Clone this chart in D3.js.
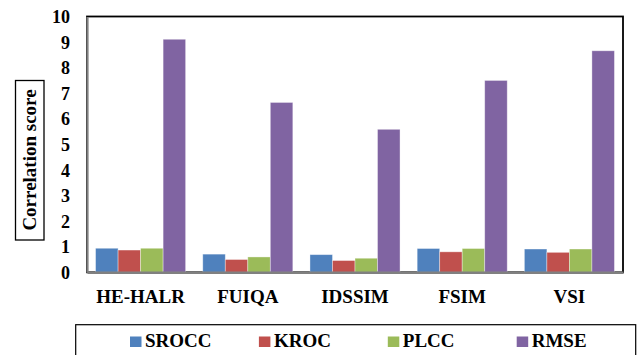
<!DOCTYPE html>
<html>
<head>
<meta charset="utf-8">
<script src="https://cdn.jsdelivr.net/npm/d3@7"></script>
<style>
  html, body { margin: 0; padding: 0; background: #fff; }
  svg { display: block; }
</style>
</head>
<body>
<svg id="chart" width="638" height="355"></svg>
<script>
// Quality metrics per method
const methods = ["HE-HALR", "FUIQA", "IDSSIM", "FSIM", "VSI"];
const metrics = ["SROCC", "KROC", "PLCC", "RMSE"];
const srocc = [0.94, 0.71, 0.69, 0.93, 0.91];
const kroc  = [0.87, 0.50, 0.46, 0.80, 0.78];
const plcc  = [0.94, 0.60, 0.55, 0.93, 0.91];
const rmse  = [9.11, 6.64, 5.59, 7.50, 8.66];
const yTicks = [0, 1, 2, 3, 4, 5, 6, 7, 8, 9, 10];
const colors = ["#4F81BD", "#C0504D", "#9BBB59", "#8064A2"];

const FONT = "'Liberation Serif', 'DejaVu Serif', 'Times New Roman', serif";

const seriesValues = [srocc, kroc, plcc, rmse];
const rows = methods.map((m, i) => ({
  method: m,
  values: metrics.map((k, j) => ({ key: k, value: seriesValues[j][i] }))
}));

const svg = d3.select("#chart");
const plot = { left: 87, right: 623, top: 16.5, bottom: 272.3 };

const x0 = d3.scaleBand().domain(methods).range([plot.left, plot.right])
  .paddingInner(0.16).paddingOuter(0.08);
const x1 = d3.scaleBand().domain(metrics).range([0, x0.bandwidth()]);
const y = d3.scaleLinear().domain([0, 10]).range([plot.bottom, plot.top]);
const color = d3.scaleOrdinal().domain(metrics).range(colors);

function styleText(sel, size) {
  sel.attr("font-family", FONT)
     .attr("font-weight", "bold")
     .attr("font-size", size)
     .attr("fill", "#000");
}

// Plot area frame
svg.append("rect")
  .attr("x", plot.left).attr("y", plot.top)
  .attr("width", plot.right - plot.left).attr("height", plot.bottom - plot.top)
  .attr("fill", "none").attr("stroke", "#000").attr("stroke-width", 1.8);

// Bars
const groups = svg.append("g").selectAll("g").data(rows).join("g")
  .attr("transform", d => `translate(${x0(d.method)},0)`);
groups.selectAll("rect").data(d => d.values).join("rect")
  .attr("x", d => x1(d.key))
  .attr("y", d => y(d.value))
  .attr("width", x1.bandwidth())
  .attr("height", d => y(0) - y(d.value))
  .attr("fill", d => color(d.key))
  .attr("stroke", "rgba(255,255,255,0.45)")
  .attr("stroke-width", 0.8);

// Y axis
const yAxis = svg.append("g")
  .attr("transform", `translate(${plot.left},0)`)
  .call(d3.axisLeft(y).tickValues(yTicks).tickSize(0).tickPadding(17).tickFormat(d3.format("d")));
yAxis.attr("font-family", FONT).attr("font-size", 18).attr("font-weight", "bold");
yAxis.select(".domain").attr("stroke", "#808080").attr("stroke-width", 2.2);
styleText(yAxis.selectAll("text").attr("dy", "0.34em"), 18);

// X axis
const xAxis = svg.append("g")
  .attr("transform", `translate(0,${plot.bottom})`)
  .call(d3.axisBottom(x0).tickSize(0).tickPadding(17));
xAxis.attr("font-family", FONT).attr("font-size", 19).attr("font-weight", "bold");
xAxis.select(".domain").attr("stroke", "#808080").attr("stroke-width", 2.4);
styleText(xAxis.selectAll("text").attr("dy", "0.71em"), 19);

// Y axis title in a box
svg.append("rect")
  .attr("x", 15.5).attr("y", 80.5).attr("width", 28.5).attr("height", 159.5)
  .attr("fill", "#fff").attr("stroke", "#000").attr("stroke-width", 1.3);
styleText(svg.append("text")
  .attr("transform", "translate(36,160) rotate(-90)")
  .attr("text-anchor", "middle")
  .text("Correlation score"), 19);

// Legend
const legend = svg.append("g");
legend.append("rect")
  .attr("x", 75.7).attr("y", 324.7).attr("width", 560).attr("height", 40)
  .attr("fill", "#fff").attr("stroke", "#000").attr("stroke-width", 1.2);
const legendX = d3.scalePoint().domain(metrics).range([130, 516.7]);
const items = legend.selectAll("g.item").data(metrics).join("g")
  .attr("class", "item")
  .attr("transform", d => `translate(${legendX(d)},0)`);
items.append("rect")
  .attr("x", 0).attr("y", 336.5).attr("width", 11.5).attr("height", 10.5)
  .attr("fill", d => color(d));
styleText(items.append("text")
  .attr("x", 15).attr("y", 346.7)
  .text(d => d), 19);
</script>
</body>
</html>
